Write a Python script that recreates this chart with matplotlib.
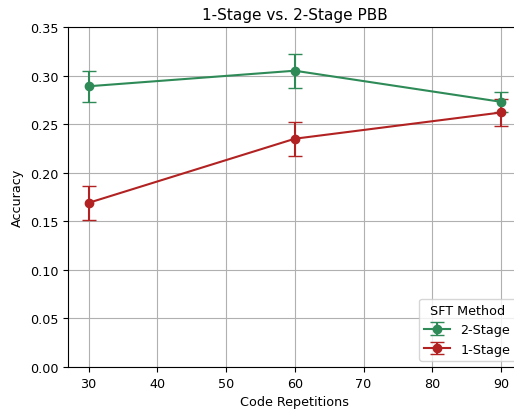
import numpy as np
import matplotlib
matplotlib.use("Agg")
import matplotlib.pyplot as plt

# data
reps = [30, 60, 90]
acc_2stage = [0.289, 0.305, 0.273]
err_2stage = [0.016, 0.0175, 0.010]
acc_1stage = [0.169, 0.235, 0.262]
err_1stage = [0.0175, 0.0175, 0.0135]

plt.rcParams['font.size'] = 9.2

fig = plt.figure(figsize=(5.14, 4.10), dpi=100)
ax = fig.add_axes([0.1323, 0.1024, 0.8825, 0.8293])

ax.errorbar(reps, acc_2stage, yerr=err_2stage, color='seagreen', marker='o',
            capsize=5, label='2-Stage')
ax.errorbar(reps, acc_1stage, yerr=err_1stage, color='firebrick', marker='o',
            capsize=5, label='1-Stage')

ax.set_xlim(27, 93)
ax.set_ylim(0, 0.35)
ax.set_yticks(np.arange(0, 0.351, 0.05))
ax.set_xticks([30, 40, 50, 60, 70, 80, 90])
ax.grid(True)
ax.set_title('1-Stage vs. 2-Stage PBB', fontsize=11)
ax.set_xlabel('Code Repetitions')
ax.set_ylabel('Accuracy')
ax.legend(title='SFT Method', loc='lower right')

fig.savefig('out.png', dpi=100)
